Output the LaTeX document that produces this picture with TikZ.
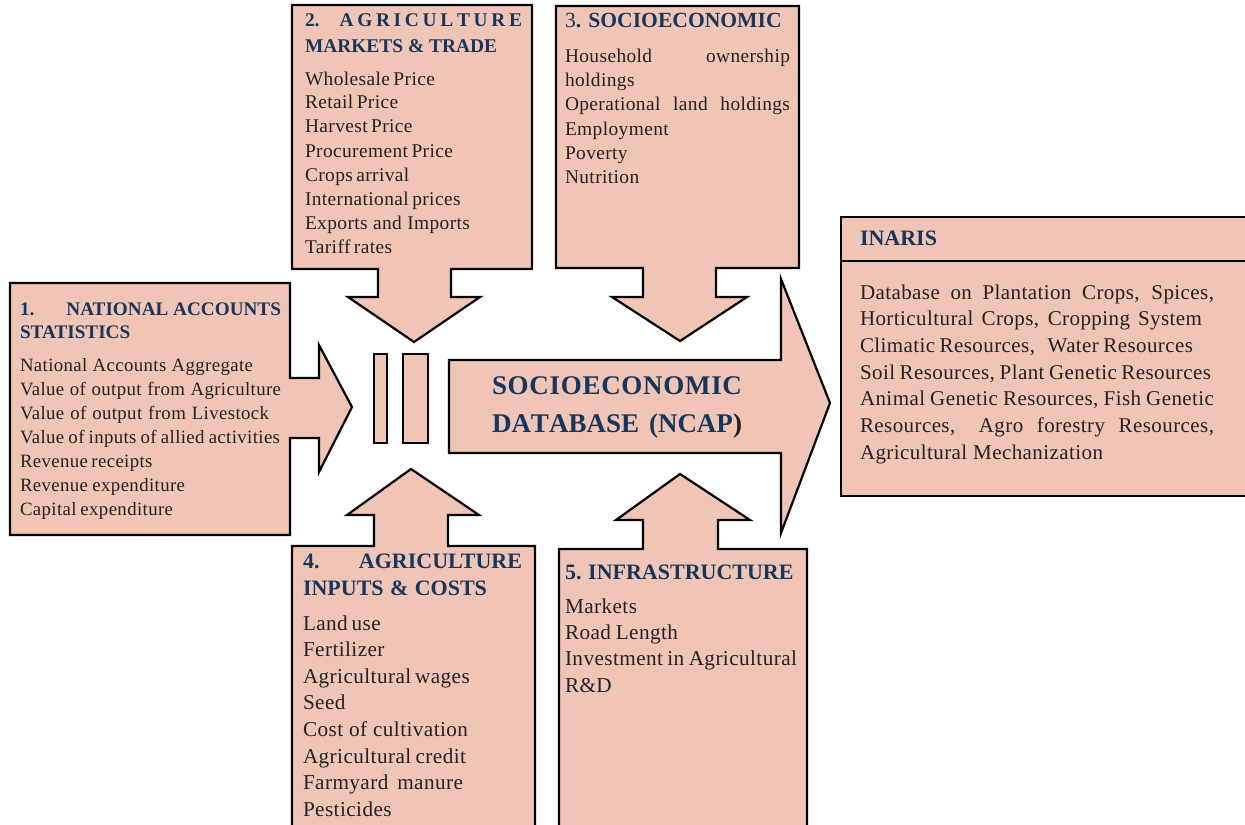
\documentclass[tikz,border=0pt]{standalone}
\usepackage{fontspec}
\setmainfont{Liberation Serif}[LetterSpace=2, BoldFeatures={LetterSpace=0}]
\definecolor{boxfill}{HTML}{F1C5B5}
\definecolor{titleblue}{HTML}{17365D}
\definecolor{bodytext}{HTML}{222222}
\newdimen\px \px=0.5pt
\newcommand\fitline[2]{\makebox[#1\px][s]{#2}}
\hbadness=10000 \hfuzz=20pt
\begin{document}
\begin{tikzpicture}[x=0.5pt,y=-0.5pt,
  panel/.style={draw=black, line width=1.1pt, fill=boxfill, line join=miter},
  txt/.style={anchor=base west, inner sep=0pt, outer sep=0pt, text=bodytext},
  bodyA/.style={txt, font=\fontsize{9.7}{12}\selectfont},
  bodyS/.style={txt, font=\fontsize{9.4}{12}\selectfont},
  bodyB/.style={txt, font=\fontsize{10.6}{13}\selectfont},
  bodyC/.style={txt, font=\fontsize{10.5}{13}\selectfont},
  ttl/.style={txt, text=titleblue, font=\bfseries\fontsize{#1}{12}\selectfont},
]
\useasboundingbox (0,0) rectangle (1245,824);
\clip (0,0) rectangle (1245,824);

% ---- shapes ----
\draw[panel] (10,283) -- (290,283) -- (290,378) -- (319,378) -- (319,345) -- (352,407)
  -- (319,472) -- (319,438) -- (290,438) -- (290,535) -- (10,535) -- cycle;
\draw[panel] (292,5) -- (532,5) -- (532,269) -- (451,269) -- (451,297) -- (480,297)
  -- (414,342) -- (348,297) -- (378,297) -- (378,269) -- (292,269) -- cycle;
\draw[panel] (556,6) -- (799,6) -- (799,268) -- (716,268) -- (716,297) -- (747,297)
  -- (680,341) -- (612,297) -- (643,297) -- (643,268) -- (556,268) -- cycle;
\draw[panel] (841,217) rectangle (1260,496);
\draw[line width=1.1pt] (841,261) -- (1260,261);
\draw[panel] (292,546) -- (374,546) -- (374,515) -- (347,515) -- (411,469) -- (479,515)
  -- (448,515) -- (448,546) -- (535,546) -- (535,840) -- (292,840) -- cycle;
\draw[panel] (559,549) -- (643,549) -- (643,520) -- (616,520) -- (680,474) -- (750,520)
  -- (718,520) -- (718,549) -- (807,549) -- (807,840) -- (559,840) -- cycle;
\draw[panel] (374,354) rectangle (387,443);
\draw[panel] (403,354) rectangle (428,443);
\draw[panel] (449,360) -- (781,360) -- (781,279) -- (830,403) -- (781,533) -- (781,453)
  -- (449,453) -- cycle;

% ---- box 1 ----
\node[ttl=9.6] (t1a) at (20,315) {\fitline{261}{1.\hfill NATIONAL ACCOUNTS}};
\node[ttl=9.6] (t1b) at (20,338) {STATISTICS};
\foreach \t/\w [count=\i] in {{National Accounts Aggregate}/233,
  {Value of output from Agriculture}/261, {Value of output from Livestock}/249,
  {Value of inputs of allied activities}/260, {Revenue receipts}/132,
  {Revenue expenditure}/165, {Capital expenditure}/153}
  \node[bodyS] (b1l\i) at (20,{371+24*(\i-1)}) {\fitline{\w}{\t}};

% ---- box 2 ----
\node[ttl=9.7] (t2a) at (305,27) {\fitline{217}{2.\hspace{10pt}A\hfil G\hfil R\hfil I\hfil C\hfil U\hfil L\hfil T\hfil U\hfil R\hfil E}};
\node[ttl=9.7] (t2b) at (305,53) {\fitline{192}{MARKETS \& TRADE}};
\foreach \t/\w [count=\i] in {{Wholesale Price}/124, {Retail Price}/88,
  {Harvest Price}/106, {Procurement Price}/146, {Crops arrival}/101,
  {International prices}/152, {Exports and Imports}/165, {Tariff rates}/87}
  \node[bodyA] (b2l\i) at (305,{85+24*(\i-1)}) {\fitline{\w}{\t}};

% ---- box 3 ----
\node[ttl=10.8] (t3) at (565,28) {{\mdseries 3}. SOCIOECONOMIC};
\foreach \t/\w [count=\i] in {{Household\hfill ownership}/225, {holdings}/74,
  {Operational land holdings}/225, {Employment}/116, {Poverty}/69, {Nutrition}/85}
  \node[bodyA] (b3l\i) at (565,{63+24*(\i-1)}) {\fitline{\w}{\t}};

% ---- INARIS ----
\node[ttl=11] (t6) at (860,245) {INARIS};
\foreach \t/\w [count=\i] in {{Database on Plantation Crops, Spices,}/354,
  {Horticultural Crops, Cropping System}/342,
  {Climatic Resources,\hspace{4pt} Water Resources}/333,
  {Soil Resources, Plant Genetic Resources}/351,
  {Animal Genetic Resources, Fish Genetic}/354,
  {Resources,\hspace{4pt} Agro forestry Resources,}/354,
  {Agricultural Mechanization}/243}
  \node[bodyC] (b6l\i) at (860,{299+26.7*(\i-1)}) {\fitline{\w}{\t}};

% ---- box 4 ----
\node[ttl=11] (t4a) at (303,568) {\fitline{219}{4.\hfill AGRICULTURE}};
\node[ttl=11] (t4b) at (303,595) {\fitline{184}{INPUTS \& COSTS}};
\foreach \t/\w [count=\i] in {{Land use}/77, {Fertilizer}/81,
  {Agricultural wages}/164, {Seed}/39, {Cost of cultivation}/165,
  {Agricultural credit}/163, {Farmyard manure}/160, {Pesticides}/84}
  \node[bodyB] (b4l\i) at (303,{630+26.6*(\i-1)}) {\fitline{\w}{\t}};

% ---- box 5 ----
\node[ttl=11] (t5) at (565,579) {\fitline{228}{5. INFRASTRUCTURE}};
\foreach \t/\w [count=\i] in {{Markets}/72, {Road Length}/113,
  {Investment in Agricultural}/232, {R\&D}/49}
  \node[bodyB] (b5l\i) at (565,{613+26.4*(\i-1)}) {\fitline{\w}{\t}};

% ---- central ----
\node[ttl=13.5] (c1) at (492,394) {\fitline{250}{S\hfil O\hfil C\hfil I\hfil O\hfil E\hfil C\hfil O\hfil N\hfil O\hfil M\hfil I\hfil C}};
\node[ttl=13.5] (c2) at (492,432) {\fitline{248}{D\hfil A\hfil T\hfil A\hfil B\hfil A\hfil S\hfil E\hspace{5pt}(\hfil N\hfil C\hfil A\hfil P\hfil\textcolor{bodytext}{)}}};
\end{tikzpicture}
\end{document}
